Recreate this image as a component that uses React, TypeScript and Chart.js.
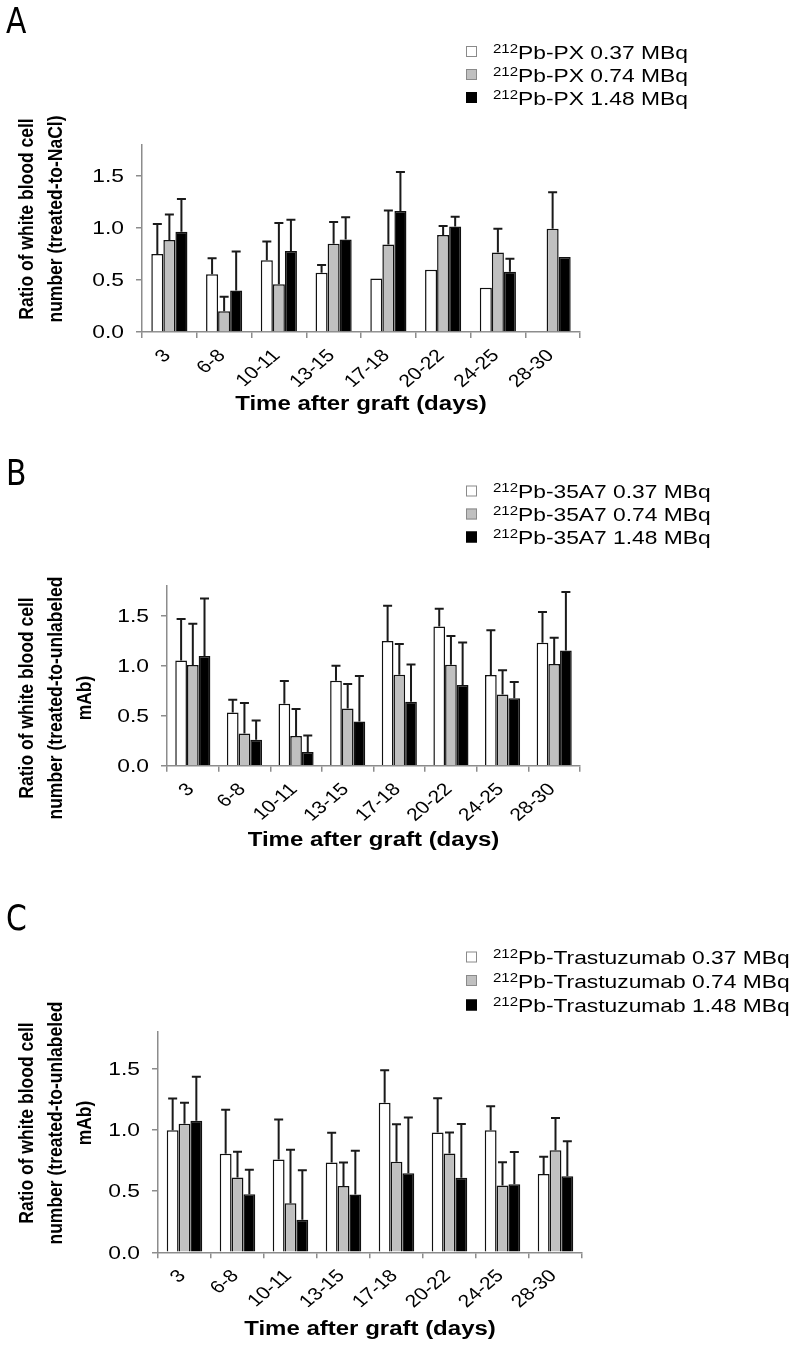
import React, { useEffect, useRef } from "react";
import { Chart, registerables } from "chart.js";

Chart.register(...registerables);

// ---------- data ----------
const categories = ["3", "6-8", "10-11", "13-15", "17-18", "20-22", "24-25", "28-30"];
const yTickValues = [0, 0.5, 1.0, 1.5];
const isotope = "212";

// Panel A : 212Pb-PX
const pxLabels = ["Pb-PX 0.37 MBq", "Pb-PX 0.74 MBq", "Pb-PX 1.48 MBq"];
const pxLow = [0.75, 0.555, 0.69, 0.57, 0.516, 0.6, 0.425, null];
const pxLowErr = [1.04, 0.71, 0.87, 0.645, null, null, null, null];
const pxMid = [0.885, 0.2, 0.46, 0.85, 0.843, 0.933, 0.765, 0.993];
const pxMidErr = [1.13, 0.34, 1.05, 1.06, 1.17, 1.02, 0.995, 1.346];
const pxHigh = [0.965, 0.4, 0.78, 0.89, 1.165, 1.016, 0.58, 0.721];
const pxHighErr = [1.28, 0.775, 1.08, 1.105, 1.54, 1.11, 0.706, null];

// Panel B : 212Pb-35A7
const a7Labels = ["Pb-35A7 0.37 MBq", "Pb-35A7 0.74 MBq", "Pb-35A7 1.48 MBq"];
const a7Low = [1.053, 0.533, 0.62, 0.85, 1.247, 1.393, 0.907, 1.23];
const a7LowErr = [1.467, 0.66, 0.847, 1.0, 1.6, 1.57, 1.355, 1.537];
const a7Mid = [1.007, 0.323, 0.297, 0.573, 0.91, 1.01, 0.713, 1.017];
const a7MidErr = [1.42, 0.627, 0.567, 0.817, 1.217, 1.297, 0.955, 1.28];
const a7High = [1.097, 0.26, 0.137, 0.443, 0.64, 0.807, 0.675, 1.153];
const a7HighErr = [1.673, 0.453, 0.303, 0.897, 1.013, 1.233, 0.837, 1.737];

// Panel C : 212Pb-Trastuzumab
const trLabels = ["Pb-Trastuzumab 0.37 MBq", "Pb-Trastuzumab 0.74 MBq", "Pb-Trastuzumab 1.48 MBq"];
const trLow = [0.997, 0.804, 0.757, 0.733, 1.22, 0.977, 0.997, 0.639];
const trLowErr = [1.256, 1.163, 1.084, 0.975, 1.487, 1.258, 1.193, 0.78];
const trMid = [1.049, 0.61, 0.4, 0.542, 0.74, 0.806, 0.545, 0.833];
const trMidErr = [1.22, 0.82, 0.837, 0.733, 1.046, 0.977, 0.736, 1.096];
const trHigh = [1.074, 0.474, 0.266, 0.471, 0.646, 0.608, 0.556, 0.62];
const trHighErr = [1.433, 0.673, 0.67, 0.828, 1.1, 1.048, 0.818, 0.906];

const yTitleA = ["Ratio of white blood cell", "number (treated-to-NaCl)"];
const yTitleBC = ["Ratio of white blood cell", "number (treated-to-unlabeled", "mAb)"];
const xTitle = "Time after graft (days)";

// ---------- style ----------
const FAM = '"Liberation Sans", Arial, sans-serif';
const NARROW = '"Liberation Sans Narrow", "DejaVu Sans Condensed", "Liberation Sans", sans-serif';
const FILLS = ["#ffffff", "#c0c0c0", "#000000"];
const AXIS = "#8c8c8c";
const S = 1.2; // horizontal stretch of the figure's lettering

type Panel = {
  top: number;
  height: number;
  left: number;
  right: number;
  plotTop: number;
  plotBottom: number;
  letter: string;
  letterY: number;
  legendLabels: string[];
  legendY: number[];
  series: (number | null)[][];
  errs: (number | null)[][];
  yTitle: string[];
  yTitleX: number[];
  yTitleCY: number;
  xTitleY: number;
  catPct: number;
};

const errorBars = {
  id: "errorBars",
  afterDatasetsDraw(chart: any) {
    const { ctx } = chart;
    const ys = chart.scales.y;
    chart.data.datasets.forEach((ds: any, i: number) => {
      const meta = chart.getDatasetMeta(i);
      meta.data.forEach((bar: any, j: number) => {
        const e = ds.errTop[j];
        if (e == null || ds.data[j] == null) return;
        const yt = ys.getPixelForValue(e);
        ctx.save();
        ctx.strokeStyle = "#1a1a1a";
        ctx.lineWidth = 2;
        ctx.beginPath();
        ctx.moveTo(bar.x, bar.y);
        ctx.lineTo(bar.x, yt);
        ctx.moveTo(bar.x - 4.5, yt);
        ctx.lineTo(bar.x + 4.5, yt);
        ctx.stroke();
        ctx.restore();
      });
    });
  },
};

const panelText = {
  id: "panelText",
  afterDraw(chart: any, _args: any, o: any) {
    const { ctx, chartArea } = chart;
    const xs = chart.scales.x;
    const ys = chart.scales.y;
    ctx.save();
    ctx.fillStyle = "#000";
    ctx.textBaseline = "alphabetic";

    // panel letter
    ctx.save();
    ctx.translate(6, o.letterY);
    ctx.scale(0.92, 1);
    ctx.font = `36px ${NARROW}`;
    ctx.textAlign = "left";
    ctx.fillText(o.letter, 0, 0);
    ctx.restore();

    // legend
    o.legendLabels.forEach((lab: string, i: number) => {
      const cy = o.legendY[i];
      ctx.fillStyle = FILLS[i];
      ctx.fillRect(466, cy - 5.5, 11, 11);
      ctx.strokeStyle = i === 2 ? "#000" : "#8a8a8a";
      ctx.lineWidth = 1;
      ctx.strokeRect(466.5, cy - 5, 10, 10);
      ctx.fillStyle = "#000";
      ctx.save();
      ctx.translate(493, 0);
      ctx.scale(S, 1);
      ctx.textAlign = "left";
      ctx.font = `12.5px ${FAM}`;
      ctx.fillText(isotope, 0, cy + 1);
      const w = ctx.measureText(isotope).width;
      ctx.font = `19px ${FAM}`;
      ctx.fillText(lab, w, cy + 7);
      ctx.restore();
    });

    // y tick labels
    ctx.font = `19px ${FAM}`;
    ctx.textAlign = "right";
    ctx.textBaseline = "middle";
    yTickValues.forEach((v) => {
      const y = ys.getPixelForValue(v);
      ctx.save();
      ctx.translate(chartArea.left - 18, y + 1);
      ctx.scale(S, 1);
      ctx.fillText(v.toFixed(1), 0, 0);
      ctx.restore();
    });

    // x tick labels (rotated)
    ctx.font = `17.5px ${FAM}`;
    categories.forEach((c, i) => {
      const x = xs.getPixelForValue(i);
      ctx.save();
      ctx.translate(x - 2, chartArea.bottom + 21);
      ctx.scale(S, 1);
      ctx.rotate(-Math.PI / 4);
      ctx.fillText(c, 0, 0);
      ctx.restore();
    });

    // y title
    ctx.font = `bold 17.5px ${FAM}`;
    ctx.textAlign = "center";
    ctx.textBaseline = "alphabetic";
    o.yTitle.forEach((line: string, i: number) => {
      ctx.save();
      ctx.translate(o.yTitleX[i], o.yTitleCY);
      ctx.scale(S, 1);
      ctx.rotate(-Math.PI / 2);
      ctx.fillText(line, 0, 0);
      ctx.restore();
    });

    // x title
    ctx.font = `bold 20px ${FAM}`;
    ctx.save();
    ctx.translate((chartArea.left + chartArea.right) / 2, o.xTitleY);
    ctx.scale(S, 1);
    ctx.fillText(xTitle, 0, 0);
    ctx.restore();

    ctx.restore();
  },
};

function BarPanel({ p }: { p: Panel }) {
  const ref = useRef<HTMLCanvasElement>(null);
  useEffect(() => {
    const canvas = ref.current!;
    const chart = new Chart(canvas, {
      type: "bar",
      data: {
        labels: categories,
        datasets: p.series.map((s, i) => ({
          label: p.legendLabels[i],
          data: s,
          errTop: p.errs[i],
          backgroundColor: FILLS[i],
          borderColor: "#111",
          borderWidth: 1.5,
          categoryPercentage: p.catPct,
          barPercentage: 1,
        })) as any,
      },
      options: {
        animation: false,
        responsive: false,
        events: [],
        layout: { padding: { left: 0, right: 795 - p.right, top: p.plotTop, bottom: 0 } },
        plugins: {
          legend: { display: false },
          tooltip: { enabled: false },
          panelText: {
            letter: p.letter,
            letterY: p.letterY,
            legendLabels: p.legendLabels,
            legendY: p.legendY,
            yTitle: p.yTitle,
            yTitleX: p.yTitleX,
            yTitleCY: p.yTitleCY,
            xTitleY: p.xTitleY,
          },
        } as any,
        scales: {
          x: {
            offset: true,
            grid: {
              display: true,
              offset: true,
              drawOnChartArea: false,
              drawTicks: true,
              tickLength: 6,
              color: AXIS,
              lineWidth: 1.5,
            },
            border: { display: true, color: AXIS, width: 1.5 },
            ticks: { display: false, autoSkip: false },
            afterFit(s: any) {
              s.height = p.height - p.plotBottom;
            },
          },
          y: {
            min: 0,
            max: 1.8,
            afterBuildTicks(s: any) {
              s.ticks = yTickValues.map((v) => ({ value: v }));
            },
            ticks: { display: false },
            grid: {
              display: true,
              drawOnChartArea: false,
              drawTicks: true,
              tickLength: 6,
              color: AXIS,
              lineWidth: 1.5,
            },
            border: { display: true, color: AXIS, width: 1.5 },
            afterFit(s: any) {
              s.width = p.left;
            },
          },
        },
      },
      plugins: [errorBars, panelText],
    });
    return () => chart.destroy();
  }, [p]);
  return (
    <canvas
      ref={ref}
      width={795}
      height={p.height}
      style={{ position: "absolute", left: 0, top: p.top, width: 795, height: p.height, display: "block" }}
    />
  );
}

const panels: Panel[] = [
  {
    top: 0,
    height: 450,
    left: 142,
    right: 580,
    plotTop: 145,
    plotBottom: 332,
    letter: "A",
    letterY: 33,
    legendLabels: pxLabels,
    legendY: [51.5, 74.5, 97.5],
    series: [pxLow, pxMid, pxHigh],
    errs: [pxLowErr, pxMidErr, pxHighErr],
    yTitle: yTitleA,
    yTitleX: [33, 62],
    yTitleCY: 219,
    xTitleY: 410,
    catPct: 0.66,
  },
  {
    top: 450,
    height: 445,
    left: 167,
    right: 580,
    plotTop: 135.7,
    plotBottom: 315.7,
    letter: "B",
    letterY: 35,
    legendLabels: a7Labels,
    legendY: [41, 64, 87],
    series: [a7Low, a7Mid, a7High],
    errs: [a7LowErr, a7MidErr, a7HighErr],
    yTitle: yTitleBC,
    yTitleX: [33, 62, 91],
    yTitleCY: 248,
    xTitleY: 396,
    catPct: 0.68,
  },
  {
    top: 895,
    height: 452,
    left: 158,
    right: 582,
    plotTop: 136.8,
    plotBottom: 357.3,
    letter: "C",
    letterY: 35,
    legendLabels: trLabels,
    legendY: [62, 85.5, 110],
    series: [trLow, trMid, trHigh],
    errs: [trLowErr, trMidErr, trHighErr],
    yTitle: yTitleBC,
    yTitleX: [33, 62, 91],
    yTitleCY: 228,
    xTitleY: 440,
    catPct: 0.67,
  },
];

export default function App() {
  useEffect(() => {
    document.body.style.margin = "0";
    document.body.style.overflow = "hidden";
  }, []);
  return (
    <div style={{ position: "relative", width: 795, height: 1347, background: "#fff", overflow: "hidden" }}>
      {panels.map((p) => (
        <BarPanel key={p.letter} p={p} />
      ))}
    </div>
  );
}
